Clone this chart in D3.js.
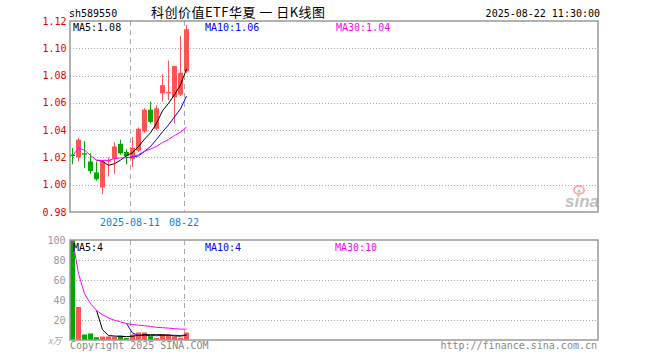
<!DOCTYPE html>
<html>
<head>
<meta charset="utf-8">
<script src="https://cdn.jsdelivr.net/npm/d3@7"></script>
<style>
  body { margin: 0; background: #fff; }
  text { font-family: "DejaVu Sans Mono", monospace; }
</style>
</head>
<body>
<div id="chart"></div>
<script>
// daily K-line data
const dates = ['2025-07-28', '2025-07-29', '2025-07-30', '2025-07-31', '2025-08-01',
  '2025-08-04', '2025-08-05', '2025-08-06', '2025-08-07', '2025-08-08',
  '2025-08-11', '2025-08-12', '2025-08-13', '2025-08-14', '2025-08-15',
  '2025-08-18', '2025-08-19', '2025-08-20', '2025-08-21', '2025-08-22'];
const openP = [1.022, 1.020, 1.023, 1.017, 1.009, 0.998, 1.017, 1.019, 1.030, 1.024,
  1.019, 1.025, 1.039, 1.055, 1.041, 1.067, 1.067, 1.064, 1.066, 1.083];
const highP = [1.027, 1.034, 1.032, 1.023, 1.017, 1.018, 1.020, 1.031, 1.033, 1.026,
  1.035, 1.042, 1.056, 1.061, 1.058, 1.081, 1.091, 1.087, 1.109, 1.117];
const lowP = [1.015, 1.017, 1.012, 1.008, 1.003, 0.993, 1.006, 1.008, 1.022, 1.015,
  1.013, 1.024, 1.038, 1.045, 1.040, 1.061, 1.062, 1.045, 1.065, 1.082];
const closeP = [1.021, 1.033, 1.022, 1.010, 1.004, 1.017, 1.018, 1.028, 1.023, 1.021,
  1.027, 1.041, 1.055, 1.046, 1.056, 1.073, 1.068, 1.087, 1.082, 1.114];
const volume = [100, 33, 5.5, 6.5, 2.8, 3.5, 3.5, 3.5, 4.5, 2,
  5.5, 7.5, 7.5, 3.8, 2, 5.5, 5.5, 3.5, 2.3, 7.5];

const ma5 = [null, null, null, null, 1.0180, 1.0172, 1.0142, 1.0154, 1.0180, 1.0214,
  1.0234, 1.0280, 1.0334, 1.0380, 1.0450, 1.0542, 1.0596, 1.0660, 1.0732, 1.0848];
const ma10 = [null, null, null, null, null, null, null, null, null, 1.0197,
  1.0203, 1.0211, 1.0244, 1.0280, 1.0332, 1.0388, 1.0438, 1.0497, 1.0556, 1.0649];
const ma30 = [1.0210, 1.0270, 1.0253, 1.0215, 1.0180, 1.0178, 1.0179, 1.0191, 1.0196, 1.0197,
  1.0204, 1.0221, 1.0246, 1.0261, 1.0281, 1.0309, 1.0331, 1.0361, 1.0385, 1.0423];
const volMa5 = [null, null, null, null, 29.6, 10.3, 4.4, 4.0, 3.6, 3.4,
  3.8, 4.6, 5.4, 5.3, 5.3, 5.3, 4.9, 4.1, 3.8, 4.9];
const volMa10 = [null, null, null, null, null, null, null, null, null, 16.5,
  7.0, 4.5, 4.7, 4.4, 4.3, 4.5, 4.7, 4.7, 4.5, 5.1];
const volMa30 = [100, 66.5, 46.2, 36.3, 29.6, 25.2, 22.1, 19.8, 18.1, 16.5,
  15.5, 14.8, 14.3, 13.5, 12.7, 12.3, 11.9, 11.4, 10.9, 10.8];

const priceTicks = [0.98, 1.00, 1.02, 1.04, 1.06, 1.08, 1.10, 1.12];
const volTicks = [20, 40, 60, 80, 100];
const labelIdx = [10, 19];
const labelText = ['2025-08-11', '08-22'];
const priceLegend = ['MA5:1.08', 'MA10:1.06', 'MA30:1.04'];
const volLegend = ['MA5:4', 'MA10:4', 'MA30:10'];

const width = 660;
const height = 360;
const left = 70, right = 598;
const slots = 88;
const up = '#ff5454', down = '#00a800';
const maColors = ['#000000', '#0000ff', '#ff00ff'];

let svg = d3.select('#chart').append('svg')
  .attr('width', width)
  .attr('height', height)

let x = d3.scaleBand().domain(d3.range(slots)).range([left, right])
let yP = d3.scaleLinear().domain([0.98, 1.12]).range([212, 21])
let yV = d3.scaleLinear().domain([0, 100]).range([340, 240])
let cx = i => x(i) + 2.5

// header
svg.append('text').attr('x', 69).attr('y', 17)
  .style('font-size', '10px').text('sh589550')
svg.append('text').attr('x', 151).attr('y', 17)
  .attr('textLength', 174).attr('lengthAdjust', 'spacing')
  .style('font-family', '"Noto Sans CJK SC"').style('font-size', '13px')
  .text('科创价值ETF华夏 一 日K线图')
svg.append('text').attr('x', 600).attr('y', 17).attr('text-anchor', 'end')
  .style('font-size', '10px').text('2025-08-22 11:30:00')

// grids
let gridP = priceTicks.filter(t => t > 0.985 && t < 1.115)
svg.append('g').selectAll('line').data(gridP).enter().append('line')
  .attr('x1', left).attr('x2', right)
  .attr('y1', d => Math.round(yP(d)) + 0.5).attr('y2', d => Math.round(yP(d)) + 0.5)
  .attr('stroke', '#aaa').attr('stroke-dasharray', '1,2')
svg.append('g').selectAll('line').data(volTicks.filter(t => t < 100)).enter().append('line')
  .attr('x1', left).attr('x2', right)
  .attr('y1', d => yV(d) + 0.5).attr('y2', d => yV(d) + 0.5)
  .attr('stroke', '#aaa').attr('stroke-dasharray', '1,2')

let vlines = svg.append('g')
labelIdx.forEach(i => {
  [[21, 212], [240, 340]].forEach(r => {
    vlines.append('line')
      .attr('x1', x(i) + 0.5).attr('x2', x(i) + 0.5)
      .attr('y1', r[0]).attr('y2', r[1])
      .attr('stroke', '#aaa').attr('stroke-dasharray', '5,4')
  })
})

// watermark
let logo = svg.append('g').attr('opacity', 0.6)
logo.append('ellipse').attr('cx', 579).attr('cy', 190).attr('rx', 5).attr('ry', 4)
  .attr('fill', 'none').attr('stroke', '#f07878').attr('stroke-width', 2)
logo.append('circle').attr('cx', 579).attr('cy', 191).attr('r', 1.5).attr('fill', '#999')
logo.append('text').attr('x', 565).attr('y', 207)
  .style('font-family', 'Arial, "Liberation Sans"').style('font-size', '17px')
  .style('font-style', 'italic').style('font-weight', 'bold')
  .attr('fill', '#9a9a9a').text('sina')

// candles
let candles = svg.append('g').selectAll('g').data(dates).enter().append('g')
candles.append('line')
  .attr('x1', (d, i) => cx(i)).attr('x2', (d, i) => cx(i))
  .attr('y1', (d, i) => yP(highP[i])).attr('y2', (d, i) => yP(lowP[i]))
  .attr('stroke', (d, i) => closeP[i] >= openP[i] ? up : down)
candles.append('rect')
  .attr('x', (d, i) => x(i))
  .attr('width', 5)
  .attr('y', (d, i) => yP(Math.max(openP[i], closeP[i])))
  .attr('height', (d, i) => Math.max(1, Math.abs(yP(openP[i]) - yP(closeP[i]))))
  .attr('fill', (d, i) => closeP[i] >= openP[i] ? up : down)

// volume bars
svg.append('g').selectAll('rect').data(volume).enter().append('rect')
  .attr('x', (d, i) => x(i))
  .attr('width', 5)
  .attr('y', d => yV(d))
  .attr('height', d => yV(0) - yV(d))
  .attr('fill', (d, i) => closeP[i] >= openP[i] ? up : down)

// moving averages
let lineP = d3.line().defined(d => d != null).x((d, i) => cx(i)).y(d => yP(d))
let lineV = d3.line().defined(d => d != null).x((d, i) => cx(i)).y(d => yV(d))
;[ma5, ma10, ma30].forEach((s, k) => {
  svg.append('path').attr('d', lineP(s)).attr('fill', 'none').attr('stroke', maColors[k])
})
;[volMa5, volMa10, volMa30].forEach((s, k) => {
  svg.append('path').attr('d', lineV(s)).attr('fill', 'none').attr('stroke', maColors[k])
})

// frames
svg.append('rect').attr('x', left).attr('y', 21).attr('width', right - left).attr('height', 191)
  .attr('fill', 'none').attr('stroke', '#999').attr('stroke-width', 1.5)
svg.append('rect').attr('x', left).attr('y', 240).attr('width', right - left).attr('height', 100)
  .attr('fill', 'none').attr('stroke', '#999').attr('stroke-width', 1.5)

// axes labels
svg.append('g').selectAll('text').data(priceTicks).enter().append('text')
  .attr('x', 66.5).attr('y', d => yP(d)).attr('dy', '0.36em')
  .attr('text-anchor', 'end').attr('fill', '#e00000').style('font-size', '10px')
  .text(d => d.toFixed(2))
svg.append('g').selectAll('text').data(volTicks).enter().append('text')
  .attr('x', 65.5).attr('y', d => yV(d)).attr('dy', '0.36em')
  .attr('text-anchor', 'end').attr('fill', '#999').style('font-size', '10px')
  .text(d => d)
svg.append('text').attr('x', 48).attr('y', 344)
  .attr('fill', '#aaa').style('font-size', '9px').style('font-style', 'italic')
  .style('font-family', '"Noto Sans CJK SC"').text('x万')

svg.append('g').selectAll('text').data(labelIdx).enter().append('text')
  .attr('x', d => x(d)).attr('y', 226).attr('text-anchor', 'middle')
  .attr('fill', '#0a84d8').style('font-size', '10px')
  .text((d, i) => labelText[i])

// legends
const legendX = [73, 205, 336];
const volLegendX = [73, 205, 335];
priceLegend.forEach((t, k) => {
  svg.append('text').attr('x', legendX[k]).attr('y', 31)
    .attr('fill', maColors[k]).style('font-size', '10px').text(t)
})
volLegend.forEach((t, k) => {
  svg.append('text').attr('x', volLegendX[k]).attr('y', 251)
    .attr('fill', maColors[k]).style('font-size', '10px').text(t)
})

// footer
svg.append('text').attr('x', 70).attr('y', 349)
  .attr('fill', '#888').style('font-size', '10px').text('Copyright 2025 SINA.COM')
svg.append('text').attr('x', 597).attr('y', 349).attr('text-anchor', 'end')
  .attr('fill', '#888').style('font-size', '10px').text('http://finance.sina.com.cn')
</script>
</body>
</html>
